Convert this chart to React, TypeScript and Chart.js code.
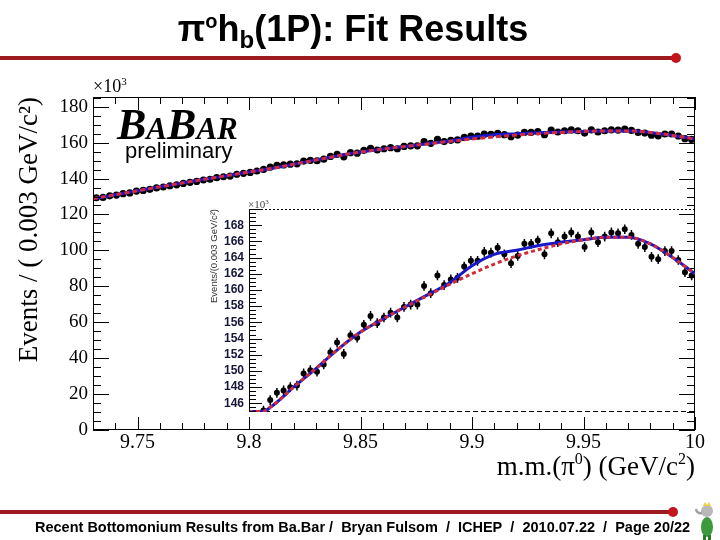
import React, { useEffect, useRef } from "react";
import { Chart, registerables } from "chart.js";

Chart.register(...registerables);

// ---------------- data (units: x10^3 events) ----------------
const BIN_START = 9.73;
const BIN_WIDTH = 0.003;

const EVENTS: number[] = [
  129.3, 129.5, 130.4, 130.8, 131.6, 132.0, 133.0, 133.4, 134.0, 134.8,
  135.3, 136.0, 136.5, 137.3, 137.9, 138.4, 139.2, 139.6, 140.5, 141.0,
  141.4, 142.4, 142.9, 143.4, 144.2, 145.1,
  146.4, 147.3, 147.6, 148.0, 148.2, 149.7, 150.1, 149.9, 150.8, 152.3,
  153.5, 152.1, 154.4, 154.1, 155.7, 156.8, 155.9, 156.6, 157.2, 156.6,
  157.9, 158.2, 158.2, 160.5, 159.6, 161.8,
  160.6, 161.3, 161.5, 162.9, 163.6, 163.6, 164.7, 164.6, 165.2, 164.4,
  163.3, 164.2, 165.7, 165.7, 166.1, 164.4, 167.0, 165.9, 166.6, 167.1,
  166.6, 165.3, 167.1, 165.9, 166.6, 167.1, 167.0, 167.5, 166.8, 165.7,
  165.3, 164.1, 163.8, 164.8, 164.8, 163.7, 162.2, 161.8,
];
const STAT_ERR = 0.6;

const CURVE_MASS: number[] = [
  9.73, 9.74, 9.75, 9.76, 9.77, 9.78, 9.79, 9.8, 9.806, 9.81, 9.82, 9.83,
  9.84, 9.85, 9.86, 9.87, 9.88, 9.89, 9.9, 9.91, 9.92, 9.93, 9.94, 9.95,
  9.96, 9.97, 9.98, 9.99, 10.0,
];
const BKG_CURVE: number[] = [
  128.8, 131.0, 133.2, 135.4, 137.5, 139.6, 141.6, 143.6, 144.8, 145.6, 148.0, 150.3,
  152.7, 154.8, 156.4, 157.9, 159.3, 160.7, 162.0, 163.2, 164.2, 165.0, 165.7, 166.2,
  166.5, 166.5, 165.7, 164.0, 162.0,
];
const FIT_CURVE: number[] = [
  128.8, 131.0, 133.2, 135.4, 137.5, 139.6, 141.6, 143.6, 144.8, 145.6, 148.0, 150.3,
  152.7, 154.8, 156.4, 157.9, 159.4, 160.9, 163.0, 164.4, 164.9, 165.5, 165.9, 166.2,
  166.5, 166.5, 165.7, 164.0, 162.0,
];

const MAIN_X_TICKS = [9.75, 9.8, 9.85, 9.9, 9.95, 10.0];
const MAIN_X_LABELS = ["9.75", "9.8", "9.85", "9.9", "9.95", "10"];
const MAIN_Y_TICKS = [0, 20, 40, 60, 80, 100, 120, 140, 160, 180];
const INSET_Y_TICKS = [146, 148, 150, 152, 154, 156, 158, 160, 162, 164, 166, 168];

const MAIN_X_MIN = 9.73;
const MAIN_X_MAX = 10.0;
const MAIN_Y_MIN = 0;
const MAIN_Y_MAX = 185.4;
const INSET_X_MIN = 9.8;
const INSET_Y_MIN = 144.93;
const INSET_Y_MAX = 170.0;

// ---------------- style ----------------
const SERIF = "'Liberation Serif', 'Times New Roman', serif";
const SANS = "'Liberation Sans', Arial, sans-serif";
const RED = "#d12a3b";
const BLUE = "#1818c8";
const DARK_RED = "#9c1b1e";

const binPoints = () =>
  EVENTS.map((v, i) => ({ x: BIN_START + BIN_WIDTH * (i + 0.5), y: v }));

const errorBarPlugin = {
  id: "errorBars",
  beforeDatasetsDraw(chart: any) {
    const { ctx, chartArea: a } = chart;
    const y = chart.scales.y;
    chart.data.datasets.forEach((ds: any, di: number) => {
      if (!ds.errorBars) return;
      const meta = chart.getDatasetMeta(di);
      ctx.save();
      ctx.beginPath();
      ctx.rect(a.left, a.top, a.right - a.left, a.bottom - a.top);
      ctx.clip();
      ctx.strokeStyle = "#000";
      ctx.lineWidth = ds.errorBarWidth || 1.5;
      ctx.beginPath();
      ds.data.forEach((p: any, i: number) => {
        const el = meta.data[i];
        if (!el) return;
        ctx.moveTo(el.x, y.getPixelForValue(p.y - ds.errorBars));
        ctx.lineTo(el.x, y.getPixelForValue(p.y + ds.errorBars));
      });
      ctx.stroke();
      ctx.restore();
    });
  },
};

const mainFramePlugin = {
  id: "rootFrame",
  afterDraw(chart: any) {
    const { ctx, chartArea: a } = chart;
    const x = chart.scales.x;
    const y = chart.scales.y;
    ctx.save();
    ctx.strokeStyle = "#000";
    ctx.lineWidth = 1;
    ctx.strokeRect(a.left + 0.5, a.top + 0.5, a.right - a.left - 1, a.bottom - a.top - 1);
    ctx.beginPath();
    for (let i = 0; i * 5 <= y.max + 1e-9; i++) {
      const py = Math.round(y.getPixelForValue(i * 5)) + 0.5;
      const len = i % 4 === 0 ? 16 : 8;
      ctx.moveTo(a.left, py);
      ctx.lineTo(a.left + len, py);
      ctx.moveTo(a.right, py);
      ctx.lineTo(a.right - len, py);
    }
    const n = Math.round((x.max - x.min) / 0.01);
    for (let i = 0; i <= n; i++) {
      const v = x.min + i * 0.01;
      const r = v / 0.05;
      const major = Math.abs(r - Math.round(r)) < 1e-6;
      const len = major ? 13 : 7;
      const px = Math.round(x.getPixelForValue(v)) + 0.5;
      ctx.moveTo(px, a.bottom);
      ctx.lineTo(px, a.bottom - len);
      ctx.moveTo(px, a.top);
      ctx.lineTo(px, a.top + len);
    }
    ctx.stroke();
    ctx.restore();
  },
};

const insetAxisPlugin = {
  id: "insetAxis",
  beforeDatasetsDraw(chart: any) {
    const { ctx, chartArea: a } = chart;
    ctx.save();
    ctx.strokeStyle = "#000";
    ctx.lineWidth = 1;
    ctx.setLineDash([2, 2]);
    ctx.beginPath();
    ctx.moveTo(a.left, a.top + 0.5);
    ctx.lineTo(a.right, a.top + 0.5);
    ctx.stroke();
    ctx.setLineDash([5, 3]);
    ctx.beginPath();
    ctx.moveTo(a.left, a.bottom - 0.5);
    ctx.lineTo(a.right, a.bottom - 0.5);
    ctx.stroke();
    ctx.restore();
  },
  afterDraw(chart: any) {
    const { ctx, chartArea: a } = chart;
    const y = chart.scales.y;
    ctx.save();
    ctx.strokeStyle = "#000";
    ctx.lineWidth = 1;
    ctx.beginPath();
    ctx.moveTo(a.left + 0.5, a.top);
    ctx.lineTo(a.left + 0.5, a.bottom);
    const start = Math.ceil(y.min * 2);
    for (let h = start; h / 2 <= y.max; h++) {
      const v = h / 2;
      const major = h % 4 === 0;
      const py = Math.round(y.getPixelForValue(v)) + 0.5;
      ctx.moveTo(a.left, py);
      ctx.lineTo(a.left + (major ? 13 : 7), py);
    }
    ctx.stroke();
    ctx.restore();
  },
};

export default function App() {
  const mainRef = useRef<HTMLCanvasElement>(null);
  const insetRef = useRef<HTMLCanvasElement>(null);

  useEffect(() => {
    const pts = binPoints();
    const bkg = CURVE_MASS.map((m, i) => ({ x: m, y: BKG_CURVE[i] }));
    const fit = CURVE_MASS.map((m, i) => ({ x: m, y: FIT_CURVE[i] }));

    const main = new Chart(mainRef.current as HTMLCanvasElement, {
      type: "scatter",
      data: {
        datasets: [
          {
            type: "line",
            label: "background",
            data: bkg,
            borderColor: RED,
            borderWidth: 3,
            borderDash: [5, 3],
            pointRadius: 0,
            fill: false,
            cubicInterpolationMode: "monotone",
            order: 0,
          } as any,
          {
            type: "line",
            label: "fit",
            data: fit,
            borderColor: BLUE,
            borderWidth: 3,
            pointRadius: 0,
            fill: false,
            cubicInterpolationMode: "monotone",
            order: 1,
          } as any,
          {
            type: "scatter",
            label: "data",
            data: pts,
            pointRadius: 3.6,
            pointBackgroundColor: "#000",
            pointBorderWidth: 0,
            errorBars: STAT_ERR,
            errorBarWidth: 1.5,
            order: 2,
          } as any,
        ],
      },
      options: {
        responsive: false,
        animation: false,
        devicePixelRatio: 1,
        events: [],
        layout: { padding: { left: 0, top: 97, right: 25, bottom: 50 } },
        plugins: { legend: { display: false }, tooltip: { enabled: false } },
        scales: {
          x: {
            type: "linear",
            min: MAIN_X_MIN,
            max: MAIN_X_MAX,
            afterBuildTicks: (s: any) => {
              s.ticks = MAIN_X_TICKS.map((v) => ({ value: v }));
            },
            afterFit: (s: any) => {
              s.height = 60;
            },
            grid: { display: false, drawTicks: false },
            border: { display: false },
            ticks: {
              autoSkip: false,
              maxRotation: 0,
              padding: 1,
              color: "#000",
              font: { family: SERIF, size: 20 },
              callback: (_v: any, i: number) => MAIN_X_LABELS[i],
            },
            title: { display: false },
          },
          y: {
            min: MAIN_Y_MIN,
            max: MAIN_Y_MAX,
            afterBuildTicks: (s: any) => {
              s.ticks = MAIN_Y_TICKS.map((v) => ({ value: v }));
            },
            afterFit: (s: any) => {
              s.width = 93;
            },
            grid: { display: false, drawTicks: false },
            border: { display: false },
            ticks: {
              padding: 5,
              color: "#000",
              font: { family: SERIF, size: 19 },
            },
            title: {
              display: true,
              text: "Events / ( 0.003 GeV/c\u00b2)",
              align: "end",
              color: "#000",
              font: { family: SERIF, size: 27 },
              padding: { top: 14, bottom: 0 },
            },
          },
        },
      } as any,
      plugins: [errorBarPlugin, mainFramePlugin],
    });

    const clampInset = (arr: { x: number; y: number }[]) =>
      arr
        .filter((p) => p.x >= INSET_X_MIN - 1e-9)
        .map((p) => ({ x: p.x, y: Math.max(p.y, INSET_Y_MIN + 0.05) }));

    const inset = new Chart(insetRef.current as HTMLCanvasElement, {
      type: "scatter",
      data: {
        datasets: [
          {
            type: "line",
            label: "background",
            data: clampInset(bkg),
            borderColor: RED,
            borderWidth: 3,
            borderDash: [4, 3],
            pointRadius: 0,
            fill: false,
            cubicInterpolationMode: "monotone",
            order: 0,
          } as any,
          {
            type: "line",
            label: "fit",
            data: clampInset(fit),
            borderColor: BLUE,
            borderWidth: 3,
            pointRadius: 0,
            fill: false,
            cubicInterpolationMode: "monotone",
            order: 1,
          } as any,
          {
            type: "scatter",
            label: "data",
            data: pts.filter((p) => p.x >= INSET_X_MIN),
            pointRadius: 3,
            pointBackgroundColor: "#000",
            pointBorderWidth: 0,
            errorBars: STAT_ERR,
            errorBarWidth: 1.5,
            order: 2,
          } as any,
        ],
      },
      options: {
        responsive: false,
        animation: false,
        devicePixelRatio: 1,
        events: [],
        layout: { padding: { left: 200, top: 209, right: 25, bottom: 128 } },
        plugins: { legend: { display: false }, tooltip: { enabled: false } },
        scales: {
          x: { type: "linear", min: INSET_X_MIN, max: MAIN_X_MAX, display: false },
          y: {
            min: INSET_Y_MIN,
            max: INSET_Y_MAX,
            afterBuildTicks: (s: any) => {
              s.ticks = INSET_Y_TICKS.map((v) => ({ value: v }));
            },
            afterFit: (s: any) => {
              s.width = 49;
            },
            grid: { display: false, drawTicks: false },
            border: { display: false },
            ticks: {
              padding: 5,
              color: "#16163a",
              font: { family: SANS, size: 12, weight: "bold" },
            },
            title: {
              display: true,
              text: "Events/(0.003 GeV/c\u00b2)",
              align: "end",
              color: "#333",
              font: { family: SANS, size: 9.5 },
              padding: { top: 9, bottom: 0 },
            },
          },
        },
      } as any,
      plugins: [errorBarPlugin, insetAxisPlugin],
    });

    return () => {
      main.destroy();
      inset.destroy();
    };
  }, []);

  const abs: React.CSSProperties = { position: "absolute", whiteSpace: "nowrap" };
  const sep = "\u00a0 /\u00a0 ";

  return (
    <div
      style={{
        position: "fixed",
        left: 0,
        top: 0,
        width: 720,
        height: 540,
        background: "#fff",
        overflow: "hidden",
      }}
    >
      <canvas
        ref={mainRef}
        width={720}
        height={540}
        style={{ position: "absolute", left: 0, top: 0, width: 720, height: 540 }}
      />
      <canvas
        ref={insetRef}
        width={720}
        height={540}
        style={{ position: "absolute", left: 0, top: 0, width: 720, height: 540 }}
      />

      {/* slide title */}
      <div
        style={{
          ...abs,
          left: 0,
          top: 11,
          width: 706,
          textAlign: "center",
          fontFamily: SANS,
          fontWeight: "bold",
          fontSize: 36,
          lineHeight: "36px",
          color: "#000",
        }}
      >
        {"\u03c0"}
        <span style={{ fontSize: 20, position: "relative", top: -13 }}>o</span>
        h
        <span style={{ fontSize: 24, position: "relative", top: 7 }}>b</span>
        (1P): Fit Results
      </div>
      <div style={{ ...abs, left: 0, top: 56, width: 676, height: 4, background: DARK_RED }} />
      <div
        style={{ ...abs, left: 671, top: 53, width: 10, height: 10, borderRadius: 5, background: "#c4141c" }}
      />

      {/* x axis title */}
      <div
        style={{
          ...abs,
          right: 25,
          top: 453,
          fontFamily: SERIF,
          fontSize: 27,
          lineHeight: "27px",
          color: "#000",
        }}
      >
        m.m.({"\u03c0"}
        <span style={{ fontSize: 16, position: "relative", top: -11 }}>0</span>) (GeV/c
        <span style={{ fontSize: 16, position: "relative", top: -11 }}>2</span>)
      </div>

      {/* x10^3 labels */}
      <div style={{ ...abs, left: 93, top: 77, fontFamily: SERIF, fontSize: 18, lineHeight: "18px", color: "#000" }}>
        {"\u00d710"}
        <span style={{ fontSize: 11, position: "relative", top: -7 }}>3</span>
      </div>
      <div style={{ ...abs, left: 248, top: 199, fontFamily: SERIF, fontSize: 11, lineHeight: "11px", color: "#444" }}>
        {"\u00d710"}
        <span style={{ fontSize: 7, position: "relative", top: -4 }}>3</span>
      </div>

      {/* BABAR preliminary */}
      <div
        style={{
          ...abs,
          left: 117,
          top: 103,
          fontFamily: SERIF,
          fontWeight: "bold",
          fontStyle: "italic",
          fontSize: 44,
          lineHeight: "44px",
          color: "#000",
        }}
      >
        B<span style={{ fontSize: 31 }}>A</span>B<span style={{ fontSize: 31 }}>AR</span>
      </div>
      <div style={{ ...abs, left: 125, top: 140, fontFamily: SANS, fontSize: 22, lineHeight: "22px", color: "#000" }}>
        preliminary
      </div>

      {/* footer */}
      <div style={{ ...abs, left: 0, top: 510, width: 674, height: 4, background: DARK_RED }} />
      <div
        style={{ ...abs, left: 668, top: 507, width: 10, height: 10, borderRadius: 5, background: "#c4141c" }}
      />
      <div
        style={{
          ...abs,
          left: 35,
          top: 520,
          fontFamily: SANS,
          fontWeight: "bold",
          fontSize: 14.5,
          lineHeight: "14px",
          color: "#000",
        }}
      >
        {"Recent Bottomonium Results from Ba.Bar /\u00a0 Bryan Fulsom" +
          sep +
          "ICHEP" +
          sep +
          "2010.07.22" +
          sep +
          "Page 20/22"}
      </div>
      <svg style={{ position: "absolute", left: 694, top: 500 }} width={24} height={40} viewBox="0 0 24 40">
        <ellipse cx="13" cy="27" rx="6" ry="10" fill="#3c9a3c" />
        <circle cx="13" cy="11" r="6" fill="#b8b8b8" />
        <path d="M9 6 L11 2 L13 5 L15 2 L17 6 Z" fill="#e8d040" />
        <path d="M8 13 Q3 14 2 9" stroke="#a0a0a0" strokeWidth="2.5" fill="none" />
        <rect x="9" y="35" width="3" height="5" fill="#2a7a2a" />
        <rect x="14" y="35" width="3" height="5" fill="#2a7a2a" />
      </svg>
    </div>
  );
}
